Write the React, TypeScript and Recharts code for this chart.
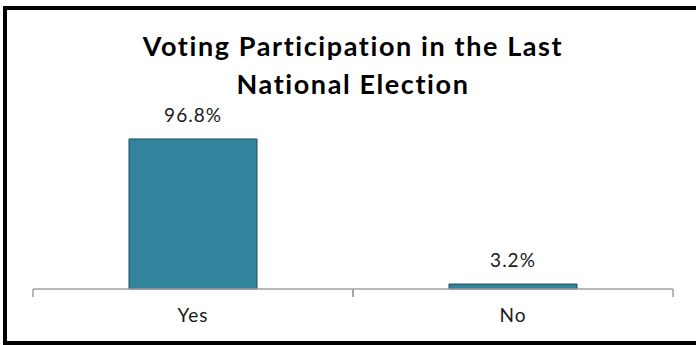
import { BarChart, Bar, XAxis, YAxis, LabelList } from "recharts";

const CATEGORIES = ["Yes", "No"];
const VALUES = [96.8, 3.2];

const BAR_FILL = "#31849b";
const BAR_STROKE = "#1e4d5c";
const AXIS_GRAY = "#a0a0a0";
const FONT = "Lato, 'Open Sans', sans-serif";

const data = CATEGORIES.map((name, i) => ({ name, value: VALUES[i] }));

// category label plus tick marks on the band edges (Excel style)
// eslint-disable-next-line @typescript-eslint/no-explicit-any
function EdgeTick(props: any) {
  const { x = 0, y = 0, payload = {} } = props;
  const half = payload.offset ?? 0;
  const axisY = y - 20;
  return (
    <g>
      <line x1={x - half} x2={x - half} y1={axisY} y2={axisY + 8} stroke={AXIS_GRAY} strokeWidth={1.5} />
      <line x1={x + half} x2={x + half} y1={axisY} y2={axisY + 8} stroke={AXIS_GRAY} strokeWidth={1.5} />
      <text
        x={x}
        y={y}
        dy="0.71em"
        textAnchor="middle"
        fill="#1a1a1a"
        fontSize={19}
        fontFamily={FONT}
        letterSpacing={1}
      >
        {payload.value}
      </text>
    </g>
  );
}

export default function App() {
  return (
    <div
      style={{
        position: "absolute",
        left: 0,
        top: 0,
        width: 696,
        height: 345,
        overflow: "hidden",
        background: "#fff",
        fontFamily: FONT,
      }}
    >
      {/* frame: right edge runs off the picture */}
      <div
        style={{
          position: "absolute",
          left: 3,
          top: 6,
          width: 720,
          height: 339,
          boxSizing: "border-box",
          border: "4px solid #000",
        }}
      />
      <div
        style={{
          position: "absolute",
          left: 33,
          width: 640,
          top: 27,
          textAlign: "center",
          fontSize: 27,
          fontWeight: 700,
          letterSpacing: 1.6,
          lineHeight: "38px",
          color: "#000",
        }}
      >
        Voting Participation in the Last
        <br />
        National Election
      </div>
      <div style={{ position: "absolute", left: 0, top: 0 }}>
        <BarChart
          width={696}
          height={345}
          data={data}
          margin={{ top: 134, right: 23, bottom: 26, left: 33 }}
          barCategoryGap="30%"
        >
          <XAxis
            dataKey="name"
            height={30}
            axisLine={{ stroke: AXIS_GRAY, strokeWidth: 1.5 }}
            tickLine={false}
            tickSize={0}
            tickMargin={20}
            tick={<EdgeTick />}
            interval={0}
          />
          <YAxis hide domain={[0, 100]} />
          <Bar
            dataKey="value"
            fill={BAR_FILL}
            stroke={BAR_STROKE}
            strokeWidth={1}
            isAnimationActive={false}
          >
            <LabelList
              dataKey="value"
              position="top"
              offset={17}
              formatter={(v: number) => `${v.toFixed(1)}%`}
              style={{ fill: "#1a1a1a", fontSize: 19, fontFamily: FONT, letterSpacing: 1 }}
            />
          </Bar>
        </BarChart>
      </div>
    </div>
  );
}
